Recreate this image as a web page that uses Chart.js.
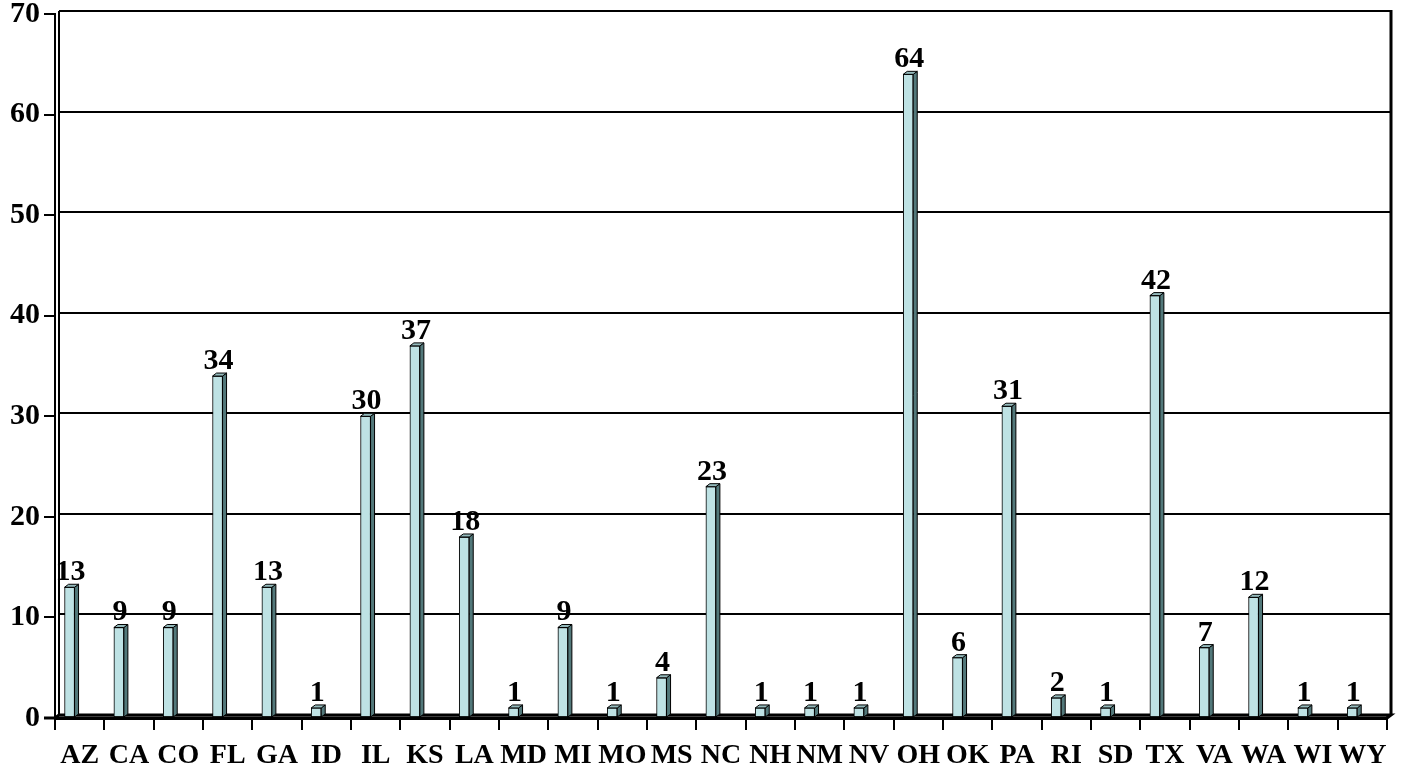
<!DOCTYPE html>
<html>
<head>
<meta charset="utf-8">
<script src="https://cdn.jsdelivr.net/npm/chart.js@4/dist/chart.umd.min.js"></script>
<style>
  html, body { margin: 0; padding: 0; background: #ffffff; }
  #wrap { width: 1405px; height: 772px; position: relative; }
</style>
</head>
<body>
<div id="wrap"><canvas id="c" width="1405" height="772"></canvas></div>
<script>
const categories = ['AZ','CA','CO','FL','GA','ID','IL','KS','LA','MD','MI','MO','MS','NC','NH','NM','NV','OH','OK','PA','RI','SD','TX','VA','WA','WI','WY'];
const counts = [13, 9, 9, 34, 13, 1, 30, 37, 18, 1, 9, 1, 4, 23, 1, 1, 1, 64, 6, 31, 2, 1, 42, 7, 12, 1, 1];
const yTicks = [0, 10, 20, 30, 40, 50, 60, 70];

const FONT = '"Liberation Serif", "Times New Roman", serif';
const FRONT = '#bee2e4';
const SIDE = '#52787a';
const TOP = '#94babc';
const DX = 4, DY = 3;

const threeD = {
  id: 'threeD',
  afterDatasetsUpdate(chart) {
    const xs = chart.scales.x;
    const cw = (xs.right - xs.left) / categories.length;
    const meta = chart.getDatasetMeta(0);
    meta.data.forEach(el => { el.x = el.x - cw * 0.205; });
  },
  beforeDatasetsDraw(chart) {
    const ctx = chart.ctx;
    const a = chart.chartArea;
    const ys = chart.scales.y;
    ctx.save();
    ctx.strokeStyle = '#000';
    ctx.lineWidth = 2;
    // back-wall gridlines
    yTicks.forEach(v => {
      const y = Math.round(ys.getPixelForValue(v)) - DY;
      ctx.beginPath();
      ctx.moveTo(a.left + DX, y);
      ctx.lineTo(a.right + DX, y);
      ctx.stroke();
    });
    // left wall inner line
    ctx.beginPath();
    ctx.moveTo(a.left + DX, a.top - DY);
    ctx.lineTo(a.left + DX, a.bottom - DY);
    ctx.stroke();
    // right frame
    ctx.lineWidth = 3;
    ctx.beginPath();
    ctx.moveTo(a.right + DX, a.top - DY - 1);
    ctx.lineTo(a.right + DX, a.bottom - DY);
    ctx.stroke();
    // floor
    ctx.lineWidth = 3;
    ctx.beginPath();
    ctx.moveTo(a.left, a.bottom);
    ctx.lineTo(a.left + DX, a.bottom - DY);
    ctx.lineTo(a.right + DX, a.bottom - DY);
    ctx.lineTo(a.right, a.bottom);
    ctx.stroke();
    ctx.restore();
  },
  afterDatasetsDraw(chart) {
    const ctx = chart.ctx;
    const meta = chart.getDatasetMeta(0);
    ctx.save();
    ctx.strokeStyle = '#000';
    ctx.lineWidth = 1;
    meta.data.forEach((el, i) => {
      const half = el.width / 2;
      const l = el.x - half, r = el.x + half, t = el.y, b = el.base;
      // side face
      ctx.beginPath();
      ctx.moveTo(r, b);
      ctx.lineTo(r, t);
      ctx.lineTo(r + DX, t - DY);
      ctx.lineTo(r + DX, b - DY);
      ctx.closePath();
      ctx.fillStyle = SIDE;
      ctx.fill();
      ctx.stroke();
      // top face
      ctx.beginPath();
      ctx.moveTo(l, t);
      ctx.lineTo(r, t);
      ctx.lineTo(r + DX, t - DY);
      ctx.lineTo(l + DX, t - DY);
      ctx.closePath();
      ctx.fillStyle = TOP;
      ctx.fill();
      ctx.stroke();
      // value label
      ctx.fillStyle = '#000';
      ctx.font = 'bold 30px ' + FONT;
      ctx.textAlign = 'center';
      ctx.textBaseline = 'alphabetic';
      ctx.fillText(String(counts[i]), el.x + 1, t - 7);
    });
    // x axis line (front)
    const a = chart.chartArea;
    ctx.lineWidth = 3;
    ctx.beginPath();
    ctx.moveTo(a.left - 11, a.bottom);
    ctx.lineTo(a.right, a.bottom);
    ctx.stroke();
    ctx.restore();
  }
};

new Chart(document.getElementById('c'), {
  type: 'bar',
  data: {
    labels: categories,
    datasets: [{
      data: counts,
      backgroundColor: FRONT,
      borderColor: '#000',
      borderWidth: 1,
      barThickness: 10,
      borderSkipped: false
    }]
  },
  options: {
    responsive: false,
    animation: false,
    devicePixelRatio: 1,
    layout: { padding: { top: 14, right: 18, left: 0, bottom: 0 } },
    plugins: {
      legend: { display: false },
      tooltip: { enabled: false },
      title: { display: false }
    },
    scales: {
      x: {
        offset: true,
        grid: { display: true, offset: true, drawOnChartArea: false, tickLength: 12, color: '#000', lineWidth: 2 },
        border: { display: true, color: '#000', width: 3 },
        ticks: { color: '#000', font: { family: FONT, size: 28, weight: 'bold' }, padding: 9, maxRotation: 0, autoSkip: false },
        afterFit(s) { s.height = 54; s.paddingLeft = 0; s.paddingRight = 0; }
      },
      y: {
        min: 0, max: 70,
        afterBuildTicks(s) { s.ticks = yTicks.map(v => ({ value: v })); },
        grid: { display: true, drawOnChartArea: false, tickLength: 11, color: '#000', lineWidth: 2 },
        border: { display: true, color: '#000', width: 2 },
        ticks: { color: '#000', font: { family: FONT, size: 30, weight: 'bold' }, padding: 4 },
        afterFit(s) { s.width = 55; s.paddingTop = 0; s.paddingBottom = 0; }
      }
    }
  },
  plugins: [threeD]
});
</script>
</body>
</html>
